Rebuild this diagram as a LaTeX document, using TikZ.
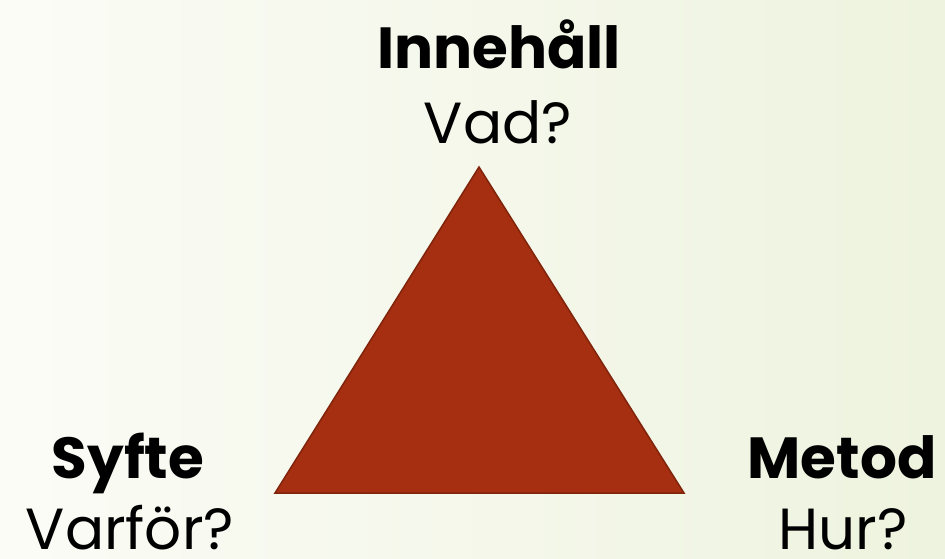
\documentclass[tikz,border=0pt]{standalone}
\usepackage{fontspec}
\setmainfont{Poppins}
\definecolor{bgL}{RGB}{251,252,246}
\definecolor{bgR}{RGB}{238,243,223}
\definecolor{triFill}{RGB}{165,47,16}
\definecolor{triEdge}{RGB}{128,36,12}
\tikzset{
  head/.style={font=\fontsize{58}{58}\selectfont\bfseries, anchor=base, inner sep=0pt},
  sub/.style={font=\fontsize{58}{58}\selectfont, anchor=base, inner sep=0pt},
}
\begin{document}
\begin{tikzpicture}[x=1pt,y=-1pt]
\shade[left color=bgL, right color=bgR] (0,0) rectangle (945,558);
\useasboundingbox (0,0) rectangle (945,558);
\coordinate (apex) at (479,167);
\coordinate (bl) at (275,493);
\coordinate (br) at (684,493);
\draw[fill=triFill, draw=triEdge, line width=1.5pt, line join=miter] (apex) -- (br) -- (bl) -- cycle;
\node[head] (inn) at (499,68) {Innehåll};
\node[sub] (vad) at (498,143) {Vad?};
\node[head] (syf) at (128,478) {Syfte};
\node[sub] (var) at (130,549) {Varför?};
\node[head] (met) at (842,478) {Metod};
\node[sub] (hur) at (843,549) {Hur?};
\end{tikzpicture}
\end{document}
